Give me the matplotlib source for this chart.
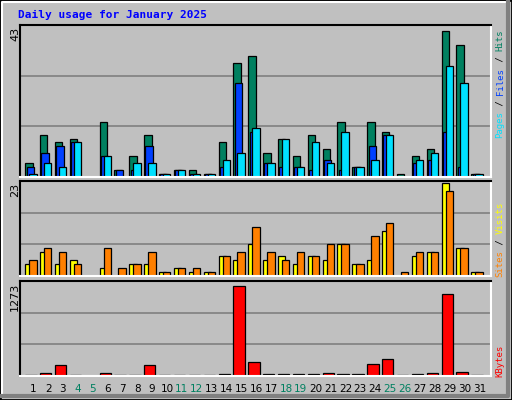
import matplotlib
matplotlib.use('Agg')
import matplotlib.pyplot as plt
from matplotlib.patches import Rectangle

W, H = 512, 400
days = list(range(1, 32))
weekend = [4, 5, 11, 12, 18, 19, 25, 26]

hits = [4, 12, 10, 11, 0, 16, 2, 6, 12, 1, 2, 2, 1, 10, 33, 35, 7, 11, 6, 12, 8, 16, 3, 16, 13, 1, 6, 8, 42, 38, 1]
files = [3, 7, 9, 10, 0, 6, 2, 2, 9, 1, 2, 1, 1, 3, 27, 13, 4, 3, 3, 2, 5, 2, 3, 9, 12, 0, 4, 5, 13, 3, 1]
pages = [1, 4, 3, 10, 0, 6, 0, 4, 4, 1, 2, 1, 1, 5, 7, 14, 4, 11, 3, 10, 4, 13, 3, 5, 12, 0, 5, 7, 32, 27, 1]
visits = [3, 6, 3, 4, 0, 2, 0, 3, 3, 1, 2, 1, 1, 5, 4, 8, 4, 5, 3, 5, 4, 8, 3, 4, 11, 0, 5, 6, 23, 7, 1]
sites = [4, 7, 6, 3, 0, 7, 2, 3, 6, 1, 2, 2, 1, 5, 6, 12, 6, 4, 6, 5, 8, 8, 3, 10, 13, 1, 6, 6, 21, 7, 1]
kbytes = [20, 45, 152, 20, 0, 45, 20, 20, 152, 20, 20, 20, 20, 30, 1228, 193, 30, 30, 30, 30, 45, 30, 30, 166, 233, 20, 30, 45, 1120, 58, 20]

C_HITS, C_FILES, C_PAGES = '#008060', '#0040ff', '#00e0ff'
C_VISITS, C_SITES, C_KB = '#ffff00', '#ff8000', '#ff0000'
GREEN_LBL = '#008060'
BG = '#c0c0c0'
MONO = 'DejaVu Sans Mono'

fig = plt.figure(figsize=(W / 100, H / 100), dpi=100)
fig.patch.set_facecolor(BG)

# outer 3D frame
fa = fig.add_axes([0, 0, 1, 1])
fa.set_xlim(0, W); fa.set_ylim(H, 0); fa.axis('off')
fa.add_patch(Rectangle((0, 0), W, H, fill=False, ec='black', lw=2))
fa.plot([2, 2, W - 3], [H - 3, 2, 2], color='white', lw=1.5)
fa.plot([W - 4, W - 4, 2], [2, H - 4, H - 4], color='#808080', lw=3)
fa.text(18, 15, 'Daily usage for January 2025', color='#0000ff', fontsize=8,
        fontweight='bold', family=MONO, va='center', ha='left')

SP = 14.87  # px per day
X0 = 33.2   # pixel center of day 1
L, R = 20, 491


def make_ax(top, bot, ymax):
    ax = fig.add_axes([L / W, 1 - bot / H, (R - L) / W, (bot - top) / H])
    ax.set_facecolor(BG)
    ax.set_xlim((L - X0) / SP + 1, (R - X0) / SP + 1)
    ax.set_ylim(0, ymax * 1.02)
    ax.set_xticks([]); ax.set_yticks([])
    for t in (1 / 3, 2 / 3):
        ax.axhline(ymax * 1.02 * t, color='#808080', lw=1.2, zorder=0)
    ax.spines['top'].set_color('black'); ax.spines['left'].set_color('black')
    ax.spines['right'].set_color('white'); ax.spines['bottom'].set_color('white')
    for s in ax.spines.values():
        s.set_linewidth(1.5)
    return ax


def bars(ax, vals, off, w, color):
    xs = [d + off for d, v in zip(days, vals) if v > 0]
    ys = [v for v in vals if v > 0]
    ax.bar(xs, ys, width=w, align='edge', color=color, edgecolor='black', lw=0.9)


bw = 7.4 / SP
ax1 = make_ax(25, 177, 43)
bars(ax1, hits, -8 / SP, bw, C_HITS)
bars(ax1, files, -6.7 / SP, bw, C_FILES)
bars(ax1, pages, -4 / SP, bw, C_PAGES)

ax2 = make_ax(181, 276, 23)
bars(ax2, visits, -8 / SP, bw, C_VISITS)
bars(ax2, sites, -4 / SP, bw, C_SITES)

ax3 = make_ax(281, 376, 1273)
bars(ax3, kbytes, -8 / SP, 11.3 / SP, C_KB)

# y max labels
for top, lbl in ((27, '43'), (183, '23'), (283, '1273')):
    fa.text(15, top, lbl, rotation=90, fontsize=8, ha='center', va='top', color='black')

# right-side legends, reading bottom to top
FS = 6.5
CH = 0.602 * FS * 100 / 72


def side_label(parts, bottom_y):
    y = bottom_y
    for txt, col in parts:
        fa.text(500, y, txt, rotation=90, fontsize=FS, family=MONO, color=col,
                ha='center', va='bottom')
        y -= CH * len(txt)

side_label([('Pages', C_PAGES), (' / ', 'black'), ('Files', C_FILES), (' / ', 'black'), ('Hits', C_HITS)], 138)
side_label([('Sites', C_SITES), (' / ', 'black'), ('Visits', C_VISITS)], 277)
side_label([('KBytes', C_KB)], 377)

# day labels
for d in days:
    fa.text(X0 + (d - 1) * SP, 389, str(d), fontsize=7.5, ha='center', va='center',
            color=GREEN_LBL if d in weekend else 'black')

fig.savefig('out.png', dpi=100, facecolor=BG)
